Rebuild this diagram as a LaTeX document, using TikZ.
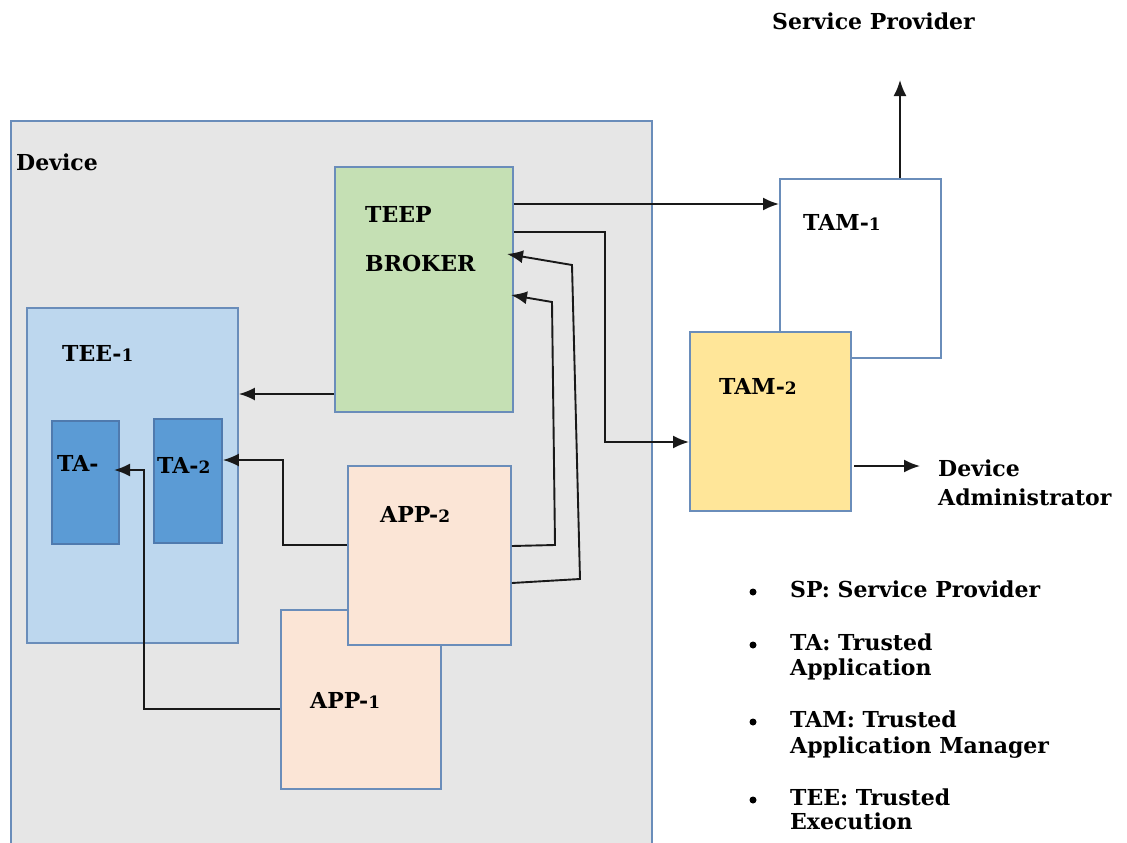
\documentclass[tikz,border=0pt]{standalone}
\usepackage{fontspec}
\setmainfont{DejaVu Serif}
\usetikzlibrary{arrows.meta}
\definecolor{edge}{HTML}{6A8DBA}
\definecolor{edgedark}{HTML}{4F7AAE}
\definecolor{devfill}{HTML}{E6E6E6}
\definecolor{brokerfill}{HTML}{C5E0B4}
\definecolor{teefill}{HTML}{BDD7EE}
\definecolor{tafill}{HTML}{5B9BD5}
\definecolor{appfill}{HTML}{FBE5D6}
\definecolor{tamfill}{HTML}{FFE699}
% old-style looking digits
\newcommand\osd[1]{{\fontsize{17}{17}\selectfont #1}}
\begin{document}
\begin{tikzpicture}[x=1pt,y=-1pt,
  box/.style={draw=edge,line width=1.9pt,rectangle,inner sep=0pt,anchor=north west},
  txt/.style={inner sep=0pt,anchor=base west,font=\bfseries\fontsize{22}{26}\selectfont},
  arr/.style={draw=black!90,line width=1.9pt,-{Latex[length=16pt,width=13pt]}},
  dot/.style={circle,fill=black,inner sep=0pt,minimum size=7pt},
]
\clip (0,0) rectangle (1127,843);
\fill[white] (0,0) rectangle (1127,843);

% device frame and its parts
\node[box,fill=devfill,minimum width=641pt,minimum height=760pt] (device) at (10,120) {};
\node[txt] (devlbl) at (16,170) {Device};

\node[box,fill=brokerfill,minimum width=178pt,minimum height=245pt] (broker) at (334,166) {};
\node[txt] (teep) at (365,222) {TEEP};
\node[txt] (brk) at (365,271) {BROKER};

\node[box,fill=teefill,minimum width=211pt,minimum height=335pt] (tee1) at (26,307) {};
\node[txt] (teelbl) at (62,361) {TEE-\osd{1}};

\node[box,draw=edgedark,fill=tafill,minimum width=67pt,minimum height=123pt] (ta1) at (51,420) {};
\node[txt] (ta1lbl) at (57,471) {TA-};
\node[box,draw=edgedark,fill=tafill,minimum width=68pt,minimum height=124pt] (ta2) at (153,418) {};
\node[txt] (ta2lbl) at (157,473) {TA-\osd{2}};

\node[box,fill=appfill,minimum width=160pt,minimum height=179pt] (app1) at (280,609) {};
\node[txt] (app1lbl) at (310,708) {APP-\osd{1}};
\node[box,fill=appfill,minimum width=163pt,minimum height=179pt] (app2) at (347,465) {};
\node[txt] (app2lbl) at (380,522) {APP-\osd{2}};

% trusted application managers
\node[box,fill=white,minimum width=161pt,minimum height=179pt] (tam1) at (779,178) {};
\node[txt] (tam1lbl) at (803,230) {TAM-\osd{1}};
\node[box,fill=tamfill,minimum width=161pt,minimum height=179pt] (tam2) at (689,331) {};
\node[txt] (tam2lbl) at (719,394) {TAM-\osd{2}};

\node[txt] (sp) at (772,30) {Service Provider};
\node[txt] (da1) at (938,476) {Device};
\node[txt] (da2) at (938,505) {Administrator};

% connectors
\coordinate (c1) at (700,204);
\draw[arr] (broker.east |- c1) -- (tam1.west |- c1);

\coordinate (c2a) at (605,232);
\coordinate (c2b) at (605,442);
\draw[arr] (broker.east |- c2a) -- (c2a) -- (c2b) -- (tam2.west |- c2b);

\coordinate (c3s) at (510,583);
\coordinate (c3a) at (580,579);
\coordinate (c3b) at (572,265);
\coordinate (c3e) at (507,254);
\draw[arr] (app2.east |- c3s) -- (c3a) -- (c3b) -- (c3e);

\coordinate (c4s) at (510,546);
\coordinate (c4a) at (555,545);
\coordinate (c4b) at (552,302);
\coordinate (c4e) at (511,295);
\draw[arr] (app2.east |- c4s) -- (c4a) -- (c4b) -- (c4e);

\coordinate (c5) at (300,394);
\draw[arr] (broker.west |- c5) -- (tee1.east |- c5);

\coordinate (c6a) at (283,545);
\coordinate (c6b) at (283,460);
\draw[arr] (app2.west |- c6a) -- (c6a) -- (c6b) -- (ta2.east |- c6b);

\coordinate (c7a) at (144,709);
\coordinate (c7b) at (144,470);
\coordinate (c7e) at (114,470);
\draw[arr] (app1.west |- c7a) -- (c7a) -- (c7b) -- (c7e);

\coordinate (c8) at (900,80);
\draw[arr] (tam1.north -| c8) -- (c8);

\coordinate (c9s) at (854,466);
\coordinate (c9e) at (920,466);
\draw[arr] (c9s) -- (c9e);

% legend
\node[dot] (b1) at (753,592) {};
\node[txt] (l1) at (790,597) {SP: Service Provider};
\node[dot] (b2) at (753,645) {};
\node[txt] (l2a) at (790,650) {TA: Trusted};
\node[txt] (l2b) at (790,675) {Application};
\node[dot] (b3) at (753,722) {};
\node[txt] (l3a) at (790,727) {TAM: Trusted};
\node[txt] (l3b) at (790,753) {Application Manager};
\node[dot] (b4) at (753,800) {};
\node[txt] (l4a) at (790,805) {TEE: Trusted};
\node[txt] (l4b) at (790,829) {Execution};
\end{tikzpicture}
\end{document}
